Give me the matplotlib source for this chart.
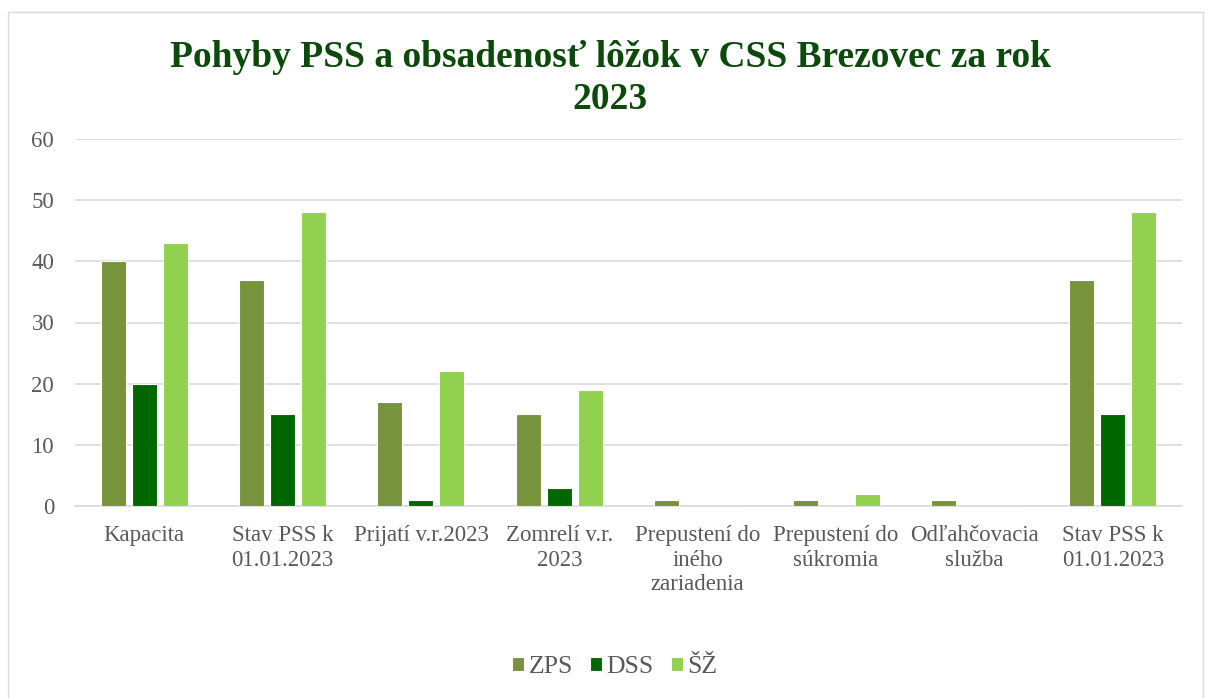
import matplotlib
matplotlib.use("Agg")
import matplotlib.pyplot as plt
import numpy as np
from matplotlib.patches import Rectangle

categories = ["Kapacita", "Stav PSS k\n01.01.2023", "Prijatí v.r.2023", "Zomrelí v.r.\n2023",
              "Prepustení do\niného\nzariadenia", "Prepustení do\nsúkromia", "Odľahčovacia\nslužba",
              "Stav PSS k\n01.01.2023"]
zps = [40, 37, 17, 15, 1, 1, 1, 37]
dss = [20, 15, 1, 3, 0, 0, 0, 15]
sz = [43, 48, 22, 19, 0, 2, 0, 48]
series_names = ["ZPS", "DSS", "ŠŽ"]
colors = ["#77933C", "#006600", "#92D050"]

plt.rcParams['font.family'] = ['Liberation Serif', 'DejaVu Serif']

fig = plt.figure(figsize=(12.08, 6.98), dpi=100)
fig.patches.append(Rectangle((8 / 1208, -0.01), 1195 / 1208, 1 - 12 / 698 + 0.01, transform=fig.transFigure,
                             fill=False, edgecolor="#D9D9D9", linewidth=1))
ax = fig.add_axes([75 / 1208, 1 - 506 / 698, 1107 / 1208, 367 / 698])

x = np.arange(len(categories))
w = 0.18
off = 0.224
for i, (vals, name, c) in enumerate(zip([zps, dss, sz], series_names, colors)):
    ax.bar(x + (i - 1) * off, vals, width=w, color=c, edgecolor="white", linewidth=0.8, label=name, zorder=3)

ax.set_xlim(-0.5, len(categories) - 0.5)
ax.set_ylim(0, 60)
ax.set_yticks(range(0, 61, 10))
ax.grid(axis="y", color="#D9D9D9", linewidth=1.2, zorder=0)
for s in ["top", "right", "left"]:
    ax.spines[s].set_visible(False)
ax.spines["bottom"].set_color("#D9D9D9")
ax.spines["bottom"].set_linewidth(1.2)
ax.tick_params(axis="both", length=0, colors="#595959", labelsize=16.5)
ax.tick_params(axis="y", pad=15)
ax.tick_params(axis="x", pad=14)
ax.set_xticks(x)
ax.set_xticklabels(categories)

fig.text(0.505, 0.887, "Pohyby PSS a obsadenosť lôžok v CSS Brezovec za rok\n2023",
         ha="center", va="center", fontsize=27, fontweight="bold", color="#0B4A0B", linespacing=1.25)

leg = fig.legend(loc="center", bbox_to_anchor=(614.5 / 1208, 0.044), ncol=3, frameon=False,
                 fontsize=18.5, handlelength=0.5, handleheight=0.5, handletextpad=0.15, columnspacing=0.66)
for t in leg.get_texts():
    t.set_color("#595959")

fig.savefig("out.png", dpi=100)
